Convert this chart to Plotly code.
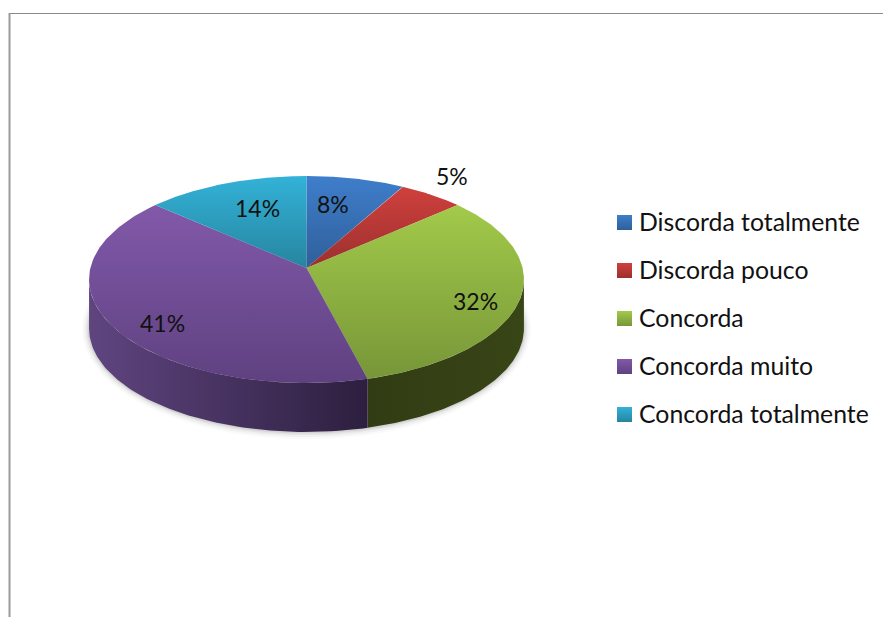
import numpy as np
import plotly.graph_objects as go

# Survey answers (number of respondents per option)
categories = ["Discorda totalmente", "Discorda pouco", "Concorda", "Concorda muito", "Concorda totalmente"]
counts = [3, 2, 12, 15, 5]

# Top-face gradient per slice (light at the top, darker at the bottom)
top_light = ["#3f7ecb", "#cf403d", "#a2ca4a", "#8259aa", "#33b2d8"]
top_dark = ["#2f5f9a", "#9c302e", "#779638", "#5f4180", "#26859f"]
# Rim gradient per slice (left edge, right edge)
rim_left = ["#1f3f66", "#68201f", "#323c14", "#5f4580", "#1a5a6c"]
rim_right = ["#1f3f66", "#68201f", "#384516", "#2d1f3f", "#1a5a6c"]

# Projection of the tilted disc onto the drawing plane
APEX_X, APEX_Y = 306.5, 268.0
WIDTH, HEIGHT, TILT = 216.1, 102.2, 0.111
DEPTH = 49.0


def project(frac):
    """Map a clockwise fraction of the circle (0 = north) to plot coordinates."""
    a = 2 * np.pi * np.asarray(frac, dtype=float)
    sx, sy = np.sin(a), np.cos(a)
    den = 1 + TILT * sy
    return APEX_X + WIDTH * sx / den, APEX_Y - HEIGHT * sy / den


total = sum(counts)
edges = np.concatenate([[0], np.cumsum(counts) / total])
percent = [f"{int(c / total * 100 + 0.5)}%" for c in counts]

# The rim is visible between the two silhouette points of the disc
rim_start = 0.25 + np.arcsin(TILT) / (2 * np.pi)
rim_end = 0.75 - np.arcsin(TILT) / (2 * np.pi)

fig = go.Figure()


def add_area(x, y, **style):
    fig.add_trace(go.Scatter(x=x, y=y, mode="lines", fill="toself", line=dict(width=0),
                             hoverinfo="skip", showlegend=False, **style))


# Soft shadow under the disc, drawn as stacked translucent outlines
sweep = np.linspace(0, 1, 241)
ox, oy = project(sweep)
for grow, alpha in [(7, 0.02), (5, 0.035), (3, 0.05), (1.5, 0.07)]:
    cx, cy = ox.mean(), oy.mean()
    add_area(cx + (ox - cx) * (1 + grow / 217), cy + (oy - cy) * (1 + grow / 104) + DEPTH,
             fillcolor=f"rgba(0,0,0,{alpha})")

# Rim walls
for i in range(len(counts)):
    lo, hi = max(edges[i], rim_start), min(edges[i + 1], rim_end)
    if hi <= lo:
        continue
    t = np.linspace(lo, hi, 90)
    x, y = project(t)
    px = np.concatenate([x, x[::-1], x[:1]])
    py = np.concatenate([y, y[::-1] + DEPTH, y[:1]])
    add_area(px, py, fillgradient=dict(type="horizontal", start=float(px.min()), stop=float(px.max()),
                                       colorscale=[[0, rim_left[i]], [1, rim_right[i]]]))

# Top face slices
for i in range(len(counts)):
    t = np.linspace(edges[i], edges[i + 1], 120)
    x, y = project(t)
    px = np.concatenate([[APEX_X], x, [APEX_X]])
    py = np.concatenate([[APEX_Y], y, [APEX_Y]])
    add_area(px, py, fillgradient=dict(type="vertical", start=float(py.min()), stop=float(py.max()),
                                       colorscale=[[0, top_light[i]], [1, top_dark[i]]]))

# Legend swatches and entries
legend_left, legend_step, legend_first = 617, 48, 222.5
annotations = []
for i, name in enumerate(categories):
    yc = legend_first + i * legend_step
    sx = [legend_left, legend_left + 15, legend_left + 15, legend_left, legend_left]
    sy = [yc - 7.5, yc - 7.5, yc + 7.5, yc + 7.5, yc - 7.5]
    add_area(sx, sy, fillgradient=dict(type="vertical", start=yc - 7.5, stop=yc + 7.5,
                                       colorscale=[[0, top_light[i]], [1, top_dark[i]]]))
    annotations.append(dict(x=637, y=yc - 1.5, text=name, xanchor="left",
                            font=dict(family="Lato, sans-serif", size=24.8, color="#111111")))

# Percentage labels
label_anchor = [(333, 204), (452, 176), (475, 301), (162, 323), (257, 208)]
for (lx, ly), text in zip(label_anchor, percent):
    annotations.append(dict(x=lx, y=ly, text=text, xanchor="center",
                            font=dict(family="Lato, sans-serif", size=23, color="#111111")))

for a in annotations:
    a.update(xref="x", yref="y", yanchor="middle", showarrow=False)

# Chart-area frame: only the top and left edges fall inside the page
frame = [
    dict(type="line", xref="x", yref="y", x0=9, x1=883, y0=13.5, y1=13.5, line=dict(color="#8a8a8a", width=1)),
    dict(type="line", xref="x", yref="y", x0=9.5, x1=9.5, y0=13, y1=617, line=dict(color="#9a9a9a", width=2)),
]

fig.update_layout(
    width=883, height=617, margin=dict(l=0, r=0, t=0, b=0), autosize=False,
    paper_bgcolor="white", plot_bgcolor="white", showlegend=False,
    xaxis=dict(range=[0, 883], visible=False, fixedrange=True),
    yaxis=dict(range=[617, 0], visible=False, fixedrange=True),
    annotations=annotations, shapes=frame,
)
fig.write_html("out.html", config={"displayModeBar": False})
